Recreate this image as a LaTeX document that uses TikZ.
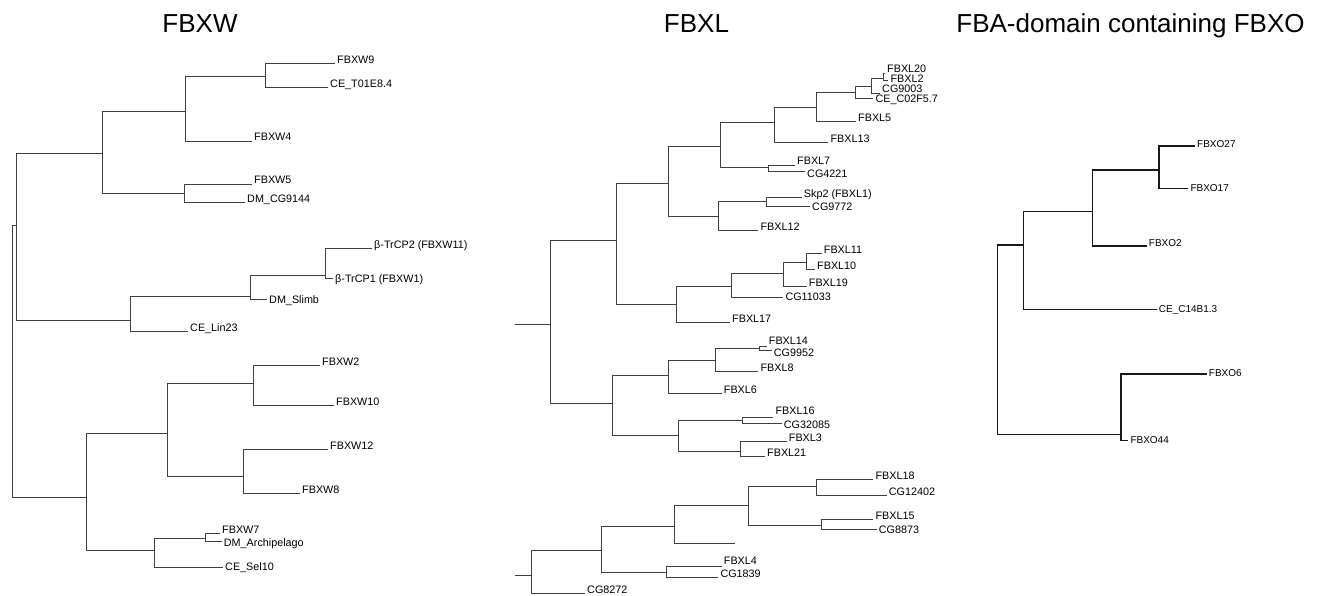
\documentclass[tikz,border=0pt]{standalone}
\usepackage{fontspec}
\setmainfont{Liberation Sans}
\usepackage{tikz}

\begin{document}
\begin{tikzpicture}[x=1pt, y=-1pt,
  headline/.style={anchor=base, inner sep=0pt, font=\fontsize{26}{30}\selectfont},
  leaf/.style={anchor=base west, inner xsep=2pt, inner ysep=0pt, font=\fontsize{10.8}{12}\selectfont},
  smallleaf/.style={leaf, font=\fontsize{10}{12}\selectfont},
  branch/.style={draw=black!75, line width=0.9pt},
  thickbranch/.style={draw=black!90, line width=1.4pt}]

\path[fill=white, use as bounding box] (0,0) rectangle (1320,596);

% FBXW
\node[headline] (tw) at (200,33) {FBXW};
\coordinate (wr) at (12,225);
\coordinate (wa) at (16.7,225);
\coordinate (wb) at (102,153);
\coordinate (wc) at (185,111.7);
\coordinate (wd) at (265,76.7);
\coordinate (we) at (184,193.3);
\coordinate (wf) at (130,320);
\coordinate (wg) at (250,296.7);
\coordinate (wh) at (325,275.7);
\coordinate (wi) at (86,497);
\coordinate (wj) at (167,433.3);
\coordinate (wk) at (253,383.3);
\coordinate (wl) at (243,476);
\coordinate (wm) at (154,550.7);
\coordinate (wn) at (205,538.3);

\node[leaf] (w9) at (335,63.3) {FBXW9};
\node[leaf] (wt01) at (328,87.3) {CE\_T01E8.4};
\node[leaf] (w4) at (252,141) {FBXW4};
\node[leaf] (w5) at (252,184) {FBXW5};
\node[leaf] (wcg) at (245,202.7) {DM\_CG9144};
\node[leaf] (w11) at (372,248.3) {β-TrCP2 (FBXW11)};
\node[leaf] (w1) at (333,278.3) {\raisebox{-4pt}{β-TrCP1 (FBXW1)}};
\node[leaf] (wsl) at (267,299.3) {\raisebox{-4pt}{DM\_Slimb}};
\node[leaf] (wlin) at (188,331.7) {CE\_Lin23};
\node[leaf] (w2) at (320,365) {FBXW2};
\node[leaf] (w10) at (334,405.3) {FBXW10};
\node[leaf] (w12) at (328,449.3) {FBXW12};
\node[leaf] (w8) at (300,493.3) {FBXW8};
\node[leaf] (w7) at (220,533.3) {FBXW7};
\node[leaf] (warch) at (221.7,541.7) {\raisebox{-4.5pt}{DM\_Archipelago}};
\node[leaf] (wsel) at (223,567.7) {\raisebox{-3pt}{CE\_Sel10}};

\draw[branch] (wr) |- (wa) (wr) |- (wi);
\draw[branch] (wa) |- (wb) (wa) |- (wf);
\draw[branch] (wb) |- (wc) (wb) |- (we);
\draw[branch] (wc) |- (wd) (wc) |- (w4.base west);
\draw[branch] (wd) |- (w9.base west) (wd) |- (wt01.base west);
\draw[branch] (we) |- (w5.base west) (we) |- (wcg.base west);
\draw[branch] (wf) |- (wg) (wf) |- (wlin.base west);
\draw[branch] (wg) |- (wh) (wg) |- (wsl.base west);
\draw[branch] (wh) |- (w11.base west) (wh) |- (w1.base west);
\draw[branch] (wi) |- (wj) (wi) |- (wm);
\draw[branch] (wj) |- (wk) (wj) |- (wl);
\draw[branch] (wk) |- (w2.base west) (wk) |- (w10.base west);
\draw[branch] (wl) |- (w12.base west) (wl) |- (w8.base west);
\draw[branch] (wm) |- (wn) (wm) |- (wsel.base west);
\draw[branch] (wn) |- (w7.base west) (wn) |- (warch.base west);

% FBXL
\node[headline] (tl) at (696.5,33) {FBXL};
\coordinate (ls) at (515,324.3);
\coordinate (lr) at (550,324.3);
\coordinate (la) at (616,240);
\coordinate (lb) at (668.3,183.3);
\coordinate (lc) at (720.7,146.7);
\coordinate (ld) at (774,122.3);
\coordinate (le) at (816.7,107.3);
\coordinate (lf) at (855,92.3);
\coordinate (lg) at (871.7,86.7);
\coordinate (lh) at (883.3,78.3);
\coordinate (lj) at (768.3,167.7);
\coordinate (lk) at (718.3,216.7);
\coordinate (ll) at (766.7,201.7);
\coordinate (lt) at (676,304.3);
\coordinate (lu) at (731.7,286);
\coordinate (lv) at (783.3,273.3);
\coordinate (lw) at (806.7,262.7);
\coordinate (lx) at (612.7,403.3);
\coordinate (ly) at (668.3,375);
\coordinate (lz) at (715,360);
\coordinate (lzz) at (759.3,348.3);
\coordinate (laa) at (678.3,435.7);
\coordinate (lab) at (742.7,420);
\coordinate (lac) at (740,451.7);

\node[leaf] (l20) at (885,73.3) {\raisebox{1pt}{FBXL20}};
\node[leaf] (l2) at (888.3,80) {\raisebox{-3pt}{FBXL2}};
\node[leaf] (l9003) at (880,93.3) {\raisebox{1pt}{CG9003}};
\node[leaf] (lc02) at (873.3,98.3) {\raisebox{-4.5pt}{CE\_C02F5.7}};
\node[leaf] (l5) at (856,121.7) {FBXL5};
\node[leaf] (l13) at (828.3,142.7) {FBXL13};
\node[leaf] (l7) at (795,165) {FBXL7};
\node[leaf] (l4221) at (805,171.7) {\raisebox{-5.5pt}{CG4221}};
\node[leaf] (l1) at (801.7,197.3) {Skp2 (FBXL1)};
\node[leaf] (l9772) at (810,206) {\raisebox{-5pt}{CG9772}};
\node[leaf] (l12) at (758.3,230) {FBXL12};
\node[leaf] (l11) at (821.7,253.3) {FBXL11};
\node[leaf] (l10) at (815,269.3) {FBXL10};
\node[leaf] (l19) at (806.7,286) {FBXL19};
\node[leaf] (l11033) at (783.3,297.3) {\raisebox{-3.4pt}{CG11033}};
\node[leaf] (l17) at (730,322.7) {FBXL17};
\node[leaf] (l14) at (766.7,346.7) {\raisebox{2.7pt}{FBXL14}};
\node[leaf] (l9952) at (771.7,350.7) {\raisebox{-6pt}{CG9952}};
\node[leaf] (l8) at (758.3,371.7) {FBXL8};
\node[leaf] (l6) at (721.7,393.3) {FBXL6};
\node[leaf] (l16) at (773.3,417.3) {\raisebox{3.3pt}{FBXL16}};
\node[leaf] (l32085) at (781.7,423.3) {\raisebox{-4.7pt}{CG32085}};
\node[leaf] (l3) at (786.7,441.7) {FBXL3};
\node[leaf] (l21) at (765,456) {FBXL21};

\draw[branch] (ls) -- (lr);
\draw[branch] (lr) |- (la) (lr) |- (lx);
\draw[branch] (la) |- (lb) (la) |- (lt);
\draw[branch] (lb) |- (lc) (lb) |- (lk);
\draw[branch] (lc) |- (ld) (lc) |- (lj);
\draw[branch] (ld) |- (le) (ld) |- (l13.base west);
\draw[branch] (le) |- (lf) (le) |- (l5.base west);
\draw[branch] (lf) |- (lg) (lf) |- (lc02.base west);
\draw[branch] (lg) |- (lh) (lg) |- (l9003.base west);
\draw[branch] (lh) |- (l20.base west) (lh) |- (l2.base west);
\draw[branch] (lj) |- (l7.base west) (lj) |- (l4221.base west);
\draw[branch] (lk) |- (ll) (lk) |- (l12.base west);
\draw[branch] (ll) |- (l1.base west) (ll) |- (l9772.base west);
\draw[branch] (lt) |- (lu) (lt) |- (l17.base west);
\draw[branch] (lu) |- (lv) (lu) |- (l11033.base west);
\draw[branch] (lv) |- (lw) (lv) |- (l19.base west);
\draw[branch] (lw) |- (l11.base west) (lw) |- (l10.base west);
\draw[branch] (lx) |- (ly) (lx) |- (laa);
\draw[branch] (ly) |- (lz) (ly) |- (l6.base west);
\draw[branch] (lz) |- (lzz) (lz) |- (l8.base west);
\draw[branch] (lzz) |- (l14.base west) (lzz) |- (l9952.base west);
\draw[branch] (laa) |- (lab) (laa) |- (lac);
\draw[branch] (lab) |- (l16.base west) (lab) |- (l32085.base west);
\draw[branch] (lac) |- (l3.base west) (lac) |- (l21.base west);

% second FBXL tree
\coordinate (ms) at (515,575);
\coordinate (mr) at (531.7,575);
\coordinate (ma) at (601.7,550);
\coordinate (mb) at (674,526);
\coordinate (mc) at (748.3,505);
\coordinate (md) at (816,486);
\coordinate (me) at (821.7,525);
\coordinate (mf) at (666,572.7);
\coordinate (mx) at (735,543.3);

\node[leaf] (m18) at (873.3,479.3) {FBXL18};
\node[leaf] (m12402) at (886.7,495) {CG12402};
\node[leaf] (m15) at (873.3,519.3) {FBXL15};
\node[leaf] (m8873) at (876.7,529.3) {\raisebox{-3.7pt}{CG8873}};
\node[leaf] (m4) at (721.7,566.7) {\raisebox{2.7pt}{FBXL4}};
\node[leaf] (m1839) at (718.3,577.3) {CG1839};
\node[leaf] (m8272) at (585,593.3) {CG8272};

\draw[branch] (ms) -- (mr);
\draw[branch] (mr) |- (ma) (mr) |- (m8272.base west);
\draw[branch] (ma) |- (mb) (ma) |- (mf);
\draw[branch] (mb) |- (mc) (mb) |- (mx);
\draw[branch] (mc) |- (md) (mc) |- (me);
\draw[branch] (md) |- (m18.base west) (md) |- (m12402.base west);
\draw[branch] (me) |- (m15.base west) (me) |- (m8873.base west);
\draw[branch] (mf) |- (m4.base west) (mf) |- (m1839.base west);

% FBXO
\node[headline] (to) at (1130.5,33) {FBA-domain containing FBXO};
\coordinate (rr) at (997.3,245);
\coordinate (ra) at (1023.3,245);
\coordinate (rb) at (1092.3,211.7);
\coordinate (rc) at (1159,170);
\coordinate (rd) at (1121,434.3);

\node[smallleaf] (o27) at (1195,146) {\raisebox{-1.3pt}{FBXO27}};
\node[smallleaf] (o17) at (1188.3,188.3) {\raisebox{-3.4pt}{FBXO17}};
\node[smallleaf] (o2) at (1146.7,246) {\raisebox{-0.7pt}{FBXO2}};
\node[smallleaf] (oc14) at (1156.7,309.3) {\raisebox{-2.7pt}{CE\_C14B1.3}};
\node[smallleaf] (o6) at (1206.7,374) {\raisebox{-2.3pt}{FBXO6}};
\node[smallleaf] (o44) at (1128.3,440.7) {\raisebox{-3pt}{FBXO44}};

\draw[thickbranch] (rr) |- (ra) (rr) |- (rd);
\draw[thickbranch] (ra) |- (rb) (ra) |- (oc14.base west);
\draw[thickbranch] (rb) |- (rc) (rb) |- (o2.base west);
\draw[thickbranch] (rc) |- (o27.base west) (rc) |- (o17.base west);
\draw[thickbranch] (rd) |- (o6.base west) (rd) |- (o44.base west);

\end{tikzpicture}
\end{document}
